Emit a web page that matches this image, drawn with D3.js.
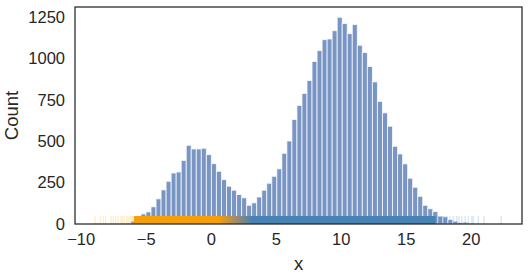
<!DOCTYPE html>
<html>
<head>
    <meta charset="UTF-8">
    <title>Histogram with rug</title>
    <script src="https://d3js.org/d3.v7.min.js"></script>
    <style>
        body { margin: 0; background: #fff; }
        svg { display: block; }
    </style>
</head>
<body>
    <div id="chart"></div>

    <script>
        // histogram bins
        const binStart = -8.85;
        const binWidth = 0.387;
        const counts = [1, 0, 0, 1, 1, 2, 4, 17, 43, 61, 73, 104, 152, 206, 258, 308, 314, 384, 475, 453,
                        453, 457, 419, 364, 318, 268, 228, 204, 178, 158, 113, 128, 163, 204, 246, 288, 333, 427, 501, 631,
                        716, 788, 866, 981, 1047, 1113, 1117, 1167, 1248, 1210, 1149, 1204, 1079, 1035, 951, 858, 740, 671, 590, 469,
                        423, 363, 276, 222, 167, 113, 92, 75, 47, 43, 27, 17, 9, 11, 4, 2, 1, 1, 0, 0, 1];

        // rug: sparse single ticks at the tails, a dense band in the middle
        const orangeTail = [-8.9, -8.5, -8.26, -8.08, -7.67, -7.49, -7.32, -7.12, -6.9, -6.81, -6.66, -6.47, -6.35, -6.21, -6.1, -6.0, -5.95];
        const blueTail = [17.4, 17.5, 17.6, 17.7, 17.8, 17.9, 18.0, 18.15, 18.41, 18.67, 18.92, 19.1, 19.31, 19.57, 19.82, 20.08, 20.2, 20.58, 21.02, 22.34];
        const rugBand = [-5.9, 17.3];
        const rugBlend = [0.6, 3.2];   // orange -> steelblue

        const xTicks = [-10, -5, 0, 5, 10, 15, 20];
        const yTicks = [0, 250, 500, 750, 1000, 1250];
        const xDomain = [-10.44, 23.94];
        const yDomain = [0, 1310];

        const width = 528, height = 278;
        const margin = { top: 7, right: 6, bottom: 54, left: 75 };
        const innerWidth = width - margin.left - margin.right;
        const innerHeight = height - margin.top - margin.bottom;
        const fontFamily = "'Liberation Sans', Arial, sans-serif";
        const textColor = "#262626";

        const svg = d3.select("#chart").append("svg")
            .attr("width", width)
            .attr("height", height);
        const g = svg.append("g")
            .attr("transform", `translate(${margin.left},${margin.top})`);

        const x = d3.scaleLinear().domain(xDomain).range([0, innerWidth]);
        const y = d3.scaleLinear().domain(yDomain).range([innerHeight, 0]);

        const bins = counts.map((c, i) => ({ x0: binStart + i * binWidth, x1: binStart + (i + 1) * binWidth, count: c }));

        // bars
        g.selectAll(".bar")
            .data(bins)
            .enter()
            .append("rect")
            .attr("class", "bar")
            .attr("x", d => x(d.x0))
            .attr("y", d => y(d.count))
            .attr("width", d => x(d.x1) - x(d.x0))
            .attr("height", d => y(0) - y(d.count))
            .attr("fill", "#4c72b0")
            .attr("fill-opacity", 0.75)
            .attr("stroke", "#fff")
            .attr("stroke-opacity", 0.75)
            .attr("stroke-width", 1);

        // rug
        const rugTop = innerHeight - 8;
        const grad = svg.append("defs").append("linearGradient")
            .attr("id", "rugGrad")
            .attr("gradientUnits", "userSpaceOnUse")
            .attr("x1", x(rugBlend[0])).attr("x2", x(rugBlend[1]))
            .attr("y1", 0).attr("y2", 0);
        grad.append("stop").attr("offset", 0).attr("stop-color", "#f4a006");
        grad.append("stop").attr("offset", 0.5).attr("stop-color", "#a68c62");
        grad.append("stop").attr("offset", 1).attr("stop-color", "#4682b4");

        g.append("rect")
            .attr("x", x(rugBand[0]))
            .attr("y", rugTop)
            .attr("width", x(rugBand[1]) - x(rugBand[0]))
            .attr("height", innerHeight - rugTop)
            .attr("fill", "url(#rugGrad)");

        g.selectAll(".rug-o")
            .data(orangeTail)
            .enter()
            .append("line")
            .attr("class", "rug-o")
            .attr("x1", d => x(d)).attr("x2", d => x(d))
            .attr("y1", rugTop).attr("y2", innerHeight)
            .attr("stroke", "orange")
            .attr("stroke-opacity", 0.18)
            .attr("stroke-width", 1.5);

        g.selectAll(".rug-b")
            .data(blueTail)
            .enter()
            .append("line")
            .attr("class", "rug-b")
            .attr("x1", d => x(d)).attr("x2", d => x(d))
            .attr("y1", rugTop).attr("y2", innerHeight)
            .attr("stroke", "steelblue")
            .attr("stroke-opacity", 0.18)
            .attr("stroke-width", 1.5);

        // frame
        g.append("rect")
            .attr("width", innerWidth)
            .attr("height", innerHeight)
            .attr("fill", "none")
            .attr("stroke", textColor)
            .attr("stroke-width", 1.25);

        // axes (no tick marks, seaborn white style)
        const xAxis = g.append("g")
            .attr("transform", `translate(0,${innerHeight})`)
            .call(d3.axisBottom(x).tickValues(xTicks).tickSize(0).tickPadding(9)
                .tickFormat(d => d < 0 ? "\u2212" + Math.abs(d) : String(d)))
            .attr("font-family", fontFamily)
            .attr("font-size", 16.5);
        xAxis.select(".domain").remove();
        xAxis.selectAll("text").attr("fill", textColor);

        const yAxis = g.append("g")
            .call(d3.axisLeft(y).tickValues(yTicks).tickSize(0).tickPadding(10)
                .tickFormat(d => String(d)))
            .attr("font-family", fontFamily)
            .attr("font-size", 16.5);
        yAxis.select(".domain").remove();
        yAxis.selectAll("text").attr("fill", textColor);

        // axis titles
        g.append("text")
            .attr("x", innerWidth / 2)
            .attr("y", innerHeight + 46)
            .attr("text-anchor", "middle")
            .attr("font-family", fontFamily)
            .attr("font-size", 18.5)
            .attr("fill", textColor)
            .text("x");

        g.append("text")
            .attr("transform", `translate(${-57},${innerHeight / 2}) rotate(-90)`)
            .attr("text-anchor", "middle")
            .attr("font-family", fontFamily)
            .attr("font-size", 18.5)
            .attr("fill", textColor)
            .text("Count");
    </script>
</body>
</html>
